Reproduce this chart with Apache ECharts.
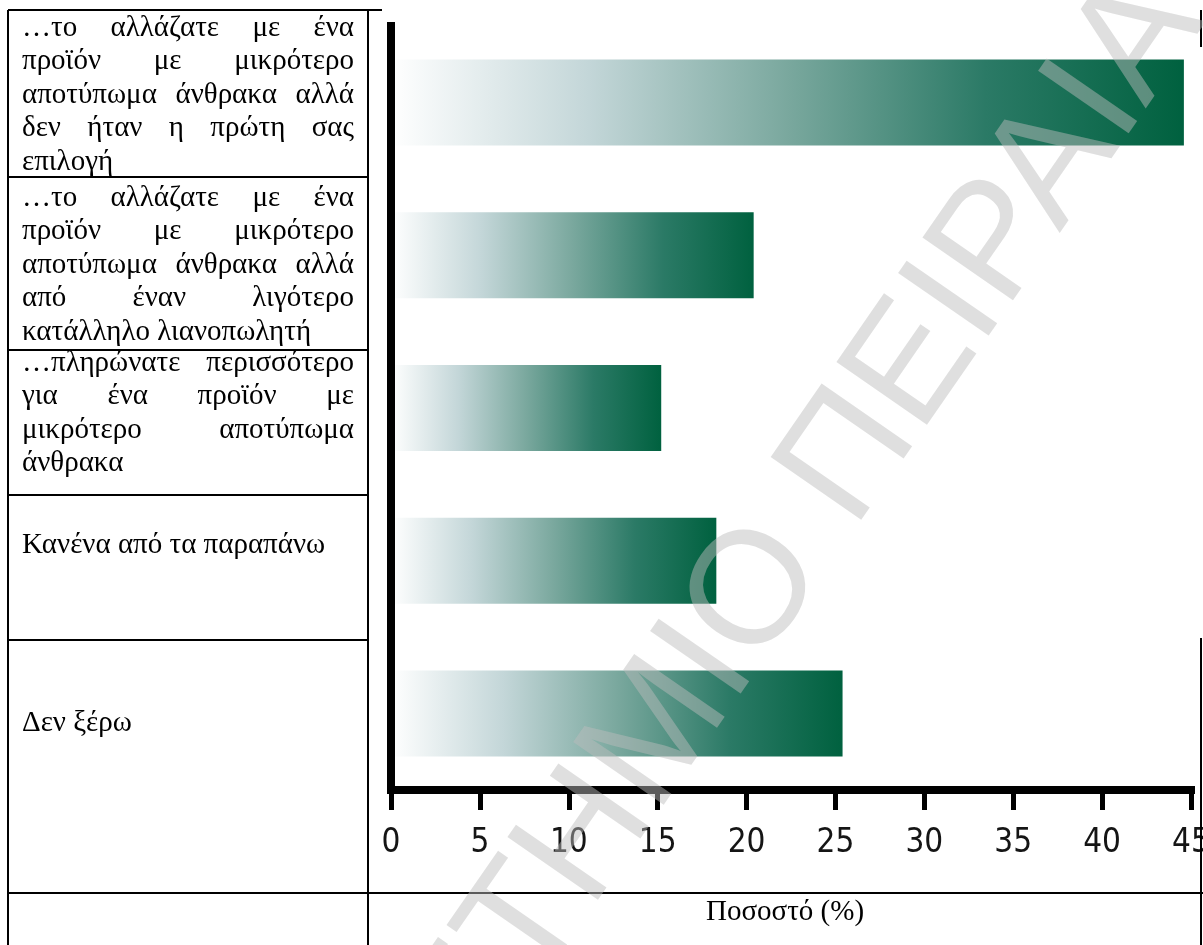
<!DOCTYPE html>
<html>
<head>
<meta charset="utf-8">
<script src="https://cdn.jsdelivr.net/npm/echarts@6/dist/echarts.min.js"></script>
<style>
  html, body { margin: 0; padding: 0; background: #ffffff; overflow: hidden; }
  #chart { width: 1203px; height: 945px; }
</style>
</head>
<body>
<div id="chart"></div>
<script>
// Answer options (line breaks follow the table cell wrapping)
const categories = [
  '…το αλλάζατε με ένα\nπροϊόν με μικρότερο\nαποτύπωμα άνθρακα αλλά\nδεν ήταν η πρώτη σας\nεπιλογή',
  '…το αλλάζατε με ένα\nπροϊόν με μικρότερο\nαποτύπωμα άνθρακα αλλά\nαπό έναν λιγότερο\nκατάλληλο λιανοπωλητή',
  '…πληρώνατε περισσότερο\nγια ένα προϊόν με\nμικρότερο αποτύπωμα\nάνθρακα',
  'Κανένα από τα παραπάνω',
  'Δεν ξέρω'
];
// Percentage of respondents per option
const values = [44.6, 20.4, 15.2, 18.3, 25.4];
// Value axis tick labels
const xTicks = [0, 5, 10, 15, 20, 25, 30, 35, 40, 45];
const axisTitle = 'Ποσοστό (%)';
const watermarkText = 'ΠΑΝΕΠΙΣΤΗΜΙΟ ΠΕΙΡΑΙΑ';

// ---- layout ----
const W = 1203, H = 945;
const serif = '"Liberation Serif", "Times New Roman", serif';
const cellFontSize = 29;
const cellFont = cellFontSize + 'px ' + serif;
const textLeft = 22, textRight = 354;
const lineStep = 33.4;
const blockFirstLineY = [28.3, 198.3, 363.3, 545, 723.3];

const measureCtx = document.createElement('canvas').getContext('2d');
function measure(s) { measureCtx.font = cellFont; return measureCtx.measureText(s).width; }

// Justified paragraph text for the label column
const cellTexts = [];
categories.forEach((cat, b) => {
  const lines = cat.split('\n');
  lines.forEach((line, i) => {
    const y = blockFirstLineY[b] + i * lineStep;
    const words = line.split(' ');
    const isLast = i === lines.length - 1;
    if (isLast || words.length < 2) {
      cellTexts.push({ type: 'text', x: textLeft, y: y, z: 60,
        style: { text: line, font: cellFont, fill: '#000', align: 'left', verticalAlign: 'middle' } });
    } else {
      const widths = words.map(measure);
      const total = widths.reduce((a, c) => a + c, 0);
      const gap = (textRight - textLeft - total) / (words.length - 1);
      let x = textLeft;
      words.forEach((w, k) => {
        cellTexts.push({ type: 'text', x: x, y: y, z: 60,
          style: { text: w, font: cellFont, fill: '#000', align: 'left', verticalAlign: 'middle' } });
        x += widths[k] + gap;
      });
    }
  });
});

// Table rules
const colX = 368, leftX = 8, rightX = 1201, topY = 10, bottomY = 946, footerY = 893;
const rowYs = [177, 350, 495, 640];
function rule(x1, y1, x2, y2) {
  return { type: 'line', z: 50, shape: { x1, y1, x2, y2 }, style: { stroke: '#000', lineWidth: 2 } };
}
const rules = [
  rule(leftX, topY, 382, topY),
  rule(leftX, topY, leftX, bottomY),
  rule(colX, topY, colX, bottomY),
  rule(rightX, topY, rightX, 47),
  rule(rightX, 638, rightX, bottomY),
  rule(leftX, footerY, rightX + 2, footerY)
].concat(rowYs.map(y => rule(leftX, y, colX, y)));

const titleText = {
  type: 'text', x: 785, y: 912, z: 60,
  style: { text: axisTitle, font: cellFont, fill: '#000', align: 'center', verticalAlign: 'middle' }
};

// Diagonal page watermark, laid over the figure
const watermark = {
  type: 'text', x: 1170, y: -4, z: 100,
  rotation: 55.3 * Math.PI / 180,
  style: {
    text: watermarkText,
    font: '160px "Liberation Sans", Arial, sans-serif',
    fill: 'rgba(189,189,189,0.48)',
    align: 'right', verticalAlign: 'middle'
  }
};

const chart = echarts.init(document.getElementById('chart'), null, { renderer: 'canvas' });
chart.setOption({
  backgroundColor: '#ffffff',
  animation: false,
  grid: {
    left: 391, right: W - 1191, top: 26, bottom: H - 790,
    containLabel: false, outerBoundsMode: 'none'
  },
  xAxis: {
    type: 'value', min: 0, max: 45, interval: 5, z: 3,
    axisLine: { show: true, lineStyle: { color: '#000', width: 8, cap: 'square' } },
    axisTick: { show: true, length: 20, lineStyle: { color: '#000', width: 5 } },
    axisLabel: {
      margin: 37, color: '#151515', fontSize: 33,
      fontFamily: '"Liberation Sans Narrow", "DejaVu Sans Condensed", sans-serif',
      hideOverlap: false,
      formatter: v => (xTicks.indexOf(v) >= 0 ? String(v) : '')
    },
    splitLine: { show: false }
  },
  yAxis: {
    type: 'category', data: categories, inverse: true, z: 3,
    axisLine: { show: true, lineStyle: { color: '#000', width: 8, cap: 'square' } },
    axisTick: { show: false },
    axisLabel: { show: false },
    splitLine: { show: false }
  },
  series: [{
    type: 'bar',
    data: values,
    barWidth: 86,
    itemStyle: {
      color: new echarts.graphic.LinearGradient(0, 0, 1, 0, [
        { offset: 0, color: '#ffffff' },
        { offset: 0.25, color: '#c3d6d8' },
        { offset: 0.5, color: '#7aa89e' },
        { offset: 0.75, color: '#2b7a66' },
        { offset: 1, color: '#00613f' }
      ])
    }
  }],
  graphic: { elements: rules.concat(cellTexts, [titleText, watermark]) }
});
</script>
</body>
</html>
